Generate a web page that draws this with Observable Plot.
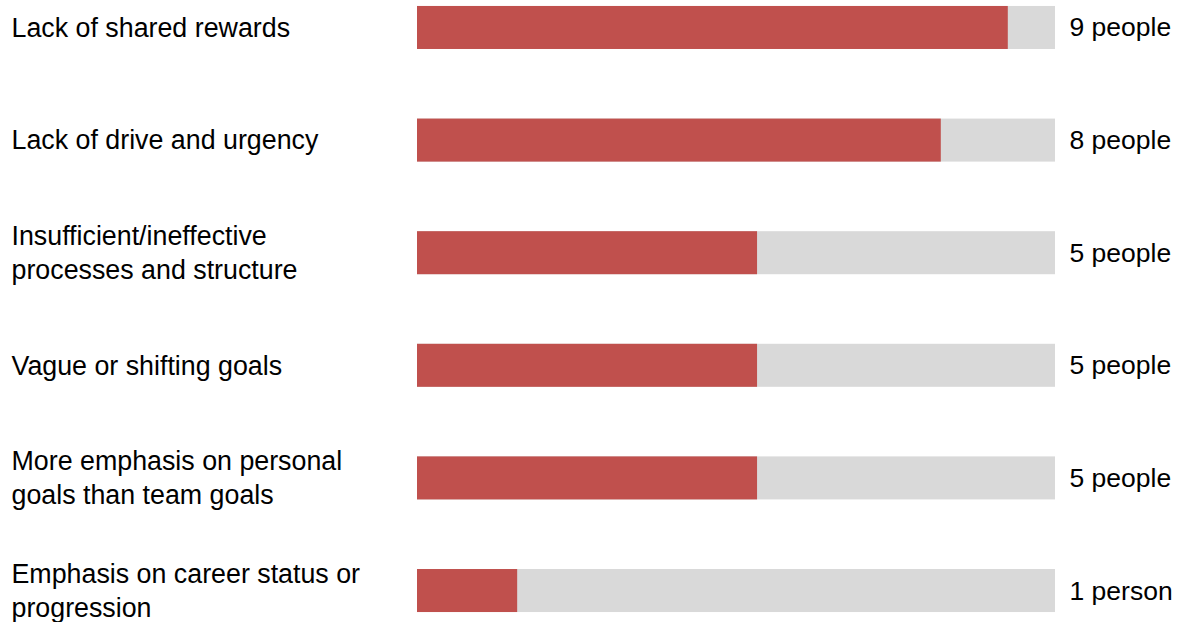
<!DOCTYPE html>
<html>
<head>
<meta charset="utf-8">
<script src="https://cdn.jsdelivr.net/npm/d3@7"></script>
<script src="https://cdn.jsdelivr.net/npm/@observablehq/plot@0.6"></script>
<style>
  html, body { margin: 0; padding: 0; background: #fff; }
  #chart svg { display: block; }
</style>
</head>
<body>
<div id="chart"></div>
<script>
// Categories (reasons), in display order
const categories = [
  "Lack of shared rewards",
  "Lack of drive and urgency",
  "Insufficient/ineffective\nprocesses and structure",
  "Vague or shifting goals",
  "More emphasis on personal\ngoals than team goals",
  "Emphasis on career status or\nprogression"
];
// Filled share of each track (percent)
const shares = [92.6, 82.1, 53.3, 53.3, 53.3, 15.7];
// Value labels shown at the right
const countLabels = ["9 people", "8 people", "5 people", "5 people", "5 people", "1 person"];
const trackMax = 100;

const rows = categories.map((c, i) => ({ category: c, share: shares[i], label: countLabels[i], full: trackMax }));

const fontFamily = "'Liberation Sans', Arial, Helvetica, sans-serif";
const fontSize = 26.8;

const chart = Plot.plot({
  width: 1177,
  height: 622,
  marginLeft: 417,
  marginRight: 122,
  marginTop: 0,
  marginBottom: 4,
  style: { fontFamily, background: "#fff" },
  x: { domain: [0, trackMax], axis: null },
  y: { domain: categories, axis: null, paddingInner: 0.618, paddingOuter: 0.053, align: 0.5, round: false },
  marks: [
    Plot.barX(rows, { y: "category", x1: 0, x2: "full", fill: "#D9D9D9" }),
    Plot.barX(rows, { y: "category", x1: 0, x2: "share", fill: "#C0504D" }),
    Plot.text(rows, {
      y: "category", text: "category", frameAnchor: "left", dx: -406, dy: -2,
      textAnchor: "start", fontSize, lineHeight: 34 / fontSize, fill: "#000"
    }),
    Plot.text(rows, {
      y: "category", text: "label", frameAnchor: "right", dx: 14, dy: 0,
      textAnchor: "start", fontSize: 26.5, fill: "#000"
    })
  ]
});
document.getElementById("chart").append(chart);
</script>
</body>
</html>
